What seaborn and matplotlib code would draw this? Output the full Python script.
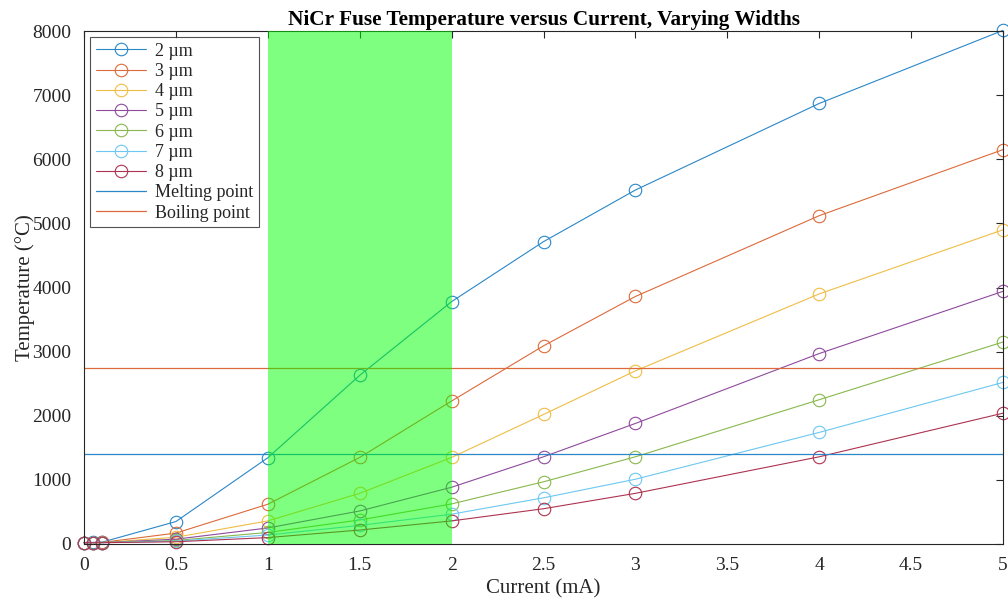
import numpy as np
import pandas as pd
import matplotlib
matplotlib.use("Agg")
import matplotlib.pyplot as plt
import seaborn as sns

# Drive current (mA)
current = [0, 0.05, 0.1, 0.5, 1, 1.5, 2, 2.5, 3, 4, 5]

# Fuse temperature (°C) per trace width
temp_2um = [20, 25, 30, 350, 1345, 2630, 3780, 4715, 5520, 6870, 8010]
temp_3um = [20, 22, 25, 170, 620, 1350, 2230, 3090, 3860, 5120, 6150]
temp_4um = [20, 21, 23, 105, 360, 790, 1350, 2020, 2700, 3900, 4900]
temp_5um = [20, 21, 22, 75, 250, 515, 885, 1360, 1880, 2970, 3940]
temp_6um = [20, 20, 21, 55, 180, 375, 625, 970, 1360, 2250, 3150]
temp_7um = [20, 20, 21, 45, 140, 290, 465, 720, 1010, 1740, 2520]
temp_8um = [20, 20, 21, 35, 100, 218, 360, 550, 790, 1360, 2040]

widths = ["2 µm", "3 µm", "4 µm", "5 µm", "6 µm", "7 µm", "8 µm"]
series = [temp_2um, temp_3um, temp_4um, temp_5um, temp_6um, temp_7um, temp_8um]

melting_point = 1400
boiling_point = 2750
safe_window = (1, 2)

x_ticks = [0, 0.5, 1, 1.5, 2, 2.5, 3, 3.5, 4, 4.5, 5]
x_tick_labels = ["0", "0.5", "1", "1.5", "2", "2.5", "3", "3.5", "4", "4.5", "5"]
y_ticks = [0, 1000, 2000, 3000, 4000, 5000, 6000, 7000, 8000]

colors = ["#2a87c8", "#dd6a3a", "#efbd45", "#8f4a9d", "#88b84d", "#6cc8f0", "#ad3350"]

df = pd.DataFrame({
    "Current": np.tile(current, len(widths)),
    "Temperature": np.concatenate(series),
    "Width": np.repeat(widths, len(current)),
})

sns.set_theme(style="white")
plt.rcParams["font.family"] = ["Liberation Serif", "DejaVu Serif"]

fig = plt.figure(figsize=(10.08, 6.07), dpi=100)
ax = fig.add_axes([84 / 1008, 63 / 607, 919 / 1008, 513 / 607])

sns.lineplot(data=df, x="Current", y="Temperature", hue="Width",
             hue_order=widths, palette=colors, marker="o", markersize=9,
             linewidth=0.8, legend=False, ax=ax, errorbar=None, sort=False)
for line in ax.lines:
    line.set_markerfacecolor("none")
    line.set_markeredgecolor(line.get_color())
    line.set_markeredgewidth(0.8)
    line.set_clip_on(False)

ax.axhline(melting_point, color=colors[0], lw=0.9)
ax.axhline(boiling_point, color=colors[1], lw=0.9)

ax.axvspan(*safe_window, color=(0, 1, 0), alpha=0.5, lw=0, zorder=5)

labels = widths + ["Melting point", "Boiling point"]
leg = ax.legend(ax.lines[:9], labels, loc="upper left", fontsize=13,
                frameon=True, fancybox=False, edgecolor="#262626",
                borderpad=0.3, labelspacing=0.18, handlelength=2.8,
                handletextpad=0.5, borderaxespad=0.35)
leg.get_frame().set_linewidth(0.8)
leg.set_zorder(10)

ax.set_xlim(0, 5)
ax.set_ylim(0, 8000)
ax.set_xticks(x_ticks)
ax.set_xticklabels(x_tick_labels)
ax.set_yticks(y_ticks)

ax.tick_params(direction="in", length=5, width=0.8, colors="#262626",
               labelsize=14, top=True, right=True)
ax.tick_params(axis="x", pad=9)
ax.tick_params(axis="y", pad=9)
for spine in ax.spines.values():
    spine.set_color("#262626")
    spine.set_linewidth(0.8)

ax.set_xlabel("Current (mA)", fontsize=15, color="#262626", labelpad=4)
ax.set_ylabel("Temperature (°C)", fontsize=15, color="#262626", labelpad=-2)
ax.set_title("NiCr Fuse Temperature versus Current, Varying Widths",
             fontsize=15.3, fontweight="bold", color="black", pad=4)

fig.savefig("out.png", dpi=100)
